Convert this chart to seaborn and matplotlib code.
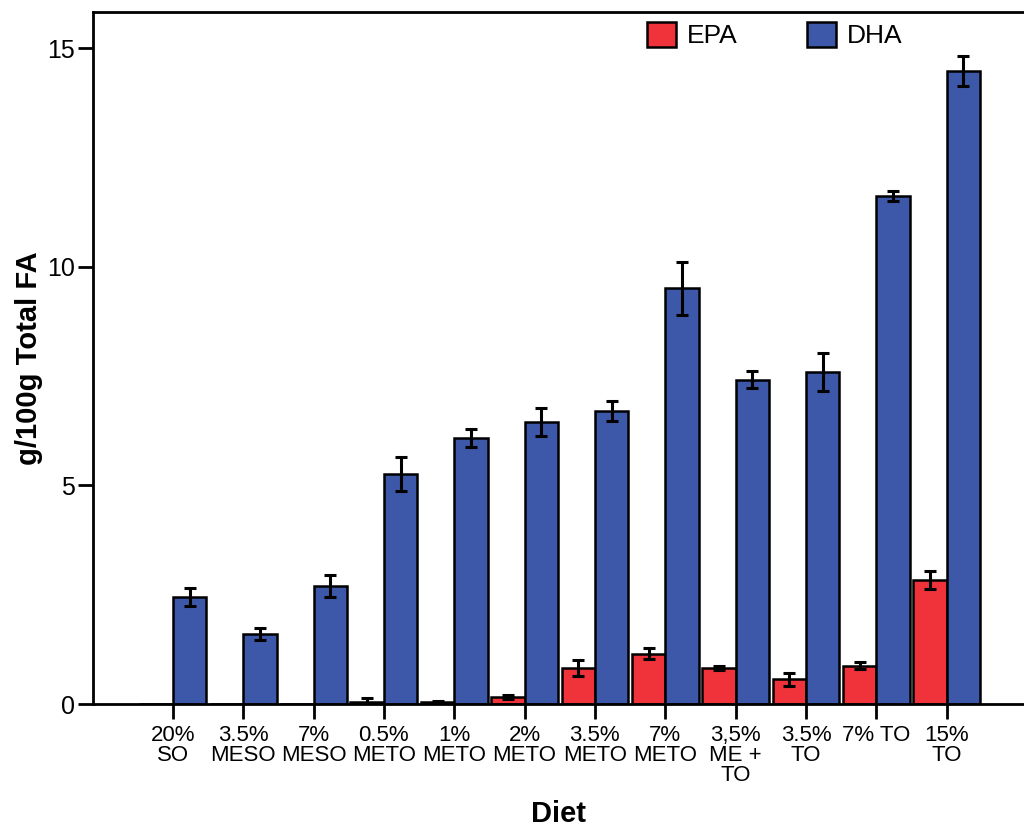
import numpy as np
import pandas as pd
import matplotlib
matplotlib.use("Agg")
import matplotlib.pyplot as plt
import seaborn as sns

diets = ["20%\nSO", "3.5%\nMESO", "7%\nMESO", "0.5%\nMETO", "1%\nMETO", "2%\nMETO",
         "3.5%\nMETO", "7%\nMETO", "3,5%\nME +\nTO", "3.5%\nTO", "7% TO", "15%\nTO"]
epa = [0.01, 0.01, 0.01, 0.05, 0.05, 0.16, 0.82, 1.15, 0.82, 0.57, 0.88, 2.84]
epa_err = [0.0, 0.0, 0.0, 0.08, 0.03, 0.04, 0.19, 0.13, 0.05, 0.15, 0.09, 0.20]
dha = [2.45, 1.60, 2.69, 5.26, 6.08, 6.45, 6.70, 9.51, 7.42, 7.59, 11.62, 14.48]
dha_err = [0.21, 0.14, 0.25, 0.39, 0.20, 0.32, 0.23, 0.61, 0.19, 0.43, 0.12, 0.34]
series = ["EPA", "DHA"]
colors = {"EPA": "#F0323A", "DHA": "#3D58A8"}

df = pd.DataFrame({
    "Diet": diets * 2,
    "FA": ["EPA"] * len(diets) + ["DHA"] * len(diets),
    "value": epa + dha,
    "err": epa_err + dha_err,
})

sns.set_style("white")
plt.rcParams["font.family"] = ["Liberation Sans", "DejaVu Sans"]
plt.rcParams["text.color"] = "black"
plt.rcParams["axes.labelcolor"] = "black"
plt.rcParams["xtick.color"] = "black"
plt.rcParams["ytick.color"] = "black"

fig = plt.figure(figsize=(10.24, 8.31), dpi=100)
ax = fig.add_axes([0.0905, 0.1528, 0.9095, 0.8324])

sns.barplot(data=df, x="Diet", y="value", hue="FA", hue_order=series,
            palette=colors, order=diets, errorbar=None, width=0.95, gap=0,
            edgecolor="black", linewidth=1.8, saturation=1, ax=ax)

# error bars at bar centers
for container, s in zip(ax.containers, series):
    sub = df[df["FA"] == s].set_index("Diet").loc[diets]
    xs = [p.get_x() + p.get_width() / 2 for p in container.patches]
    ys = [p.get_height() for p in container.patches]
    errs = sub["err"].values
    mask = errs > 0
    ax.errorbar(np.array(xs)[mask], np.array(ys)[mask], yerr=errs[mask], fmt="none",
                ecolor="black", elinewidth=2.2, capsize=4.5, capthick=2.2, zorder=5)

ax.set_xlim(-1.14, 12.1)
ax.set_ylim(0, 15.82)
ax.set_yticks([0, 5, 10, 15])
ax.tick_params(axis="y", labelsize=18, length=11, width=2, direction="out", left=True, pad=2,
               colors="black")
ax.tick_params(axis="x", labelsize=16, length=11, width=2, direction="out", bottom=True, pad=4,
               colors="black")
for lbl in ax.get_xticklabels():
    lbl.set_linespacing(0.95)

for sp in ["left", "bottom", "top"]:
    ax.spines[sp].set_linewidth(2)
    ax.spines[sp].set_color("black")
ax.spines["right"].set_visible(False)

ax.set_xlabel("Diet", fontsize=21, fontweight="bold", labelpad=10, color="black")
ax.set_ylabel("g/100g Total FA", fontsize=21, fontweight="bold", labelpad=3, color="black")

leg = ax.legend(loc="upper left", bbox_to_anchor=(0.632, 0.974), bbox_transform=fig.transFigure,
                ncol=2, frameon=False, fontsize=19, handlelength=1.1, handleheight=1.1,
                handletextpad=0.4, columnspacing=2.65, borderpad=0, borderaxespad=0)
for t in leg.get_texts():
    t.set_color("black")

fig.savefig("out.png", dpi=100)
